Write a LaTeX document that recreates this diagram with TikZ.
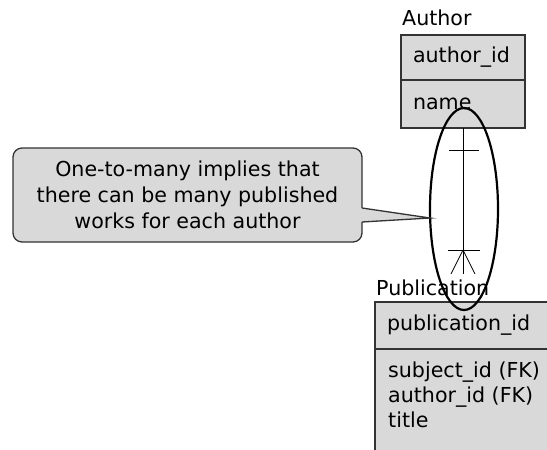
\documentclass[tikz,border=0pt]{standalone}
\usepackage{fontspec}
\setmainfont{DejaVu Sans}
\usetikzlibrary{positioning,shapes.geometric}
\definecolor{boxfill}{HTML}{D9D9D9}
\definecolor{boxline}{HTML}{333333}

\begin{document}
\begin{tikzpicture}[x=1pt,y=-1pt,
  entbox/.style={draw=boxline,fill=boxfill,line width=1.3pt,outer sep=0pt,anchor=north west,
    minimum width=119pt,text width=100pt,inner xsep=12pt,align=left,font=\fontsize{20.6}{25}\selectfont},
  entname/.style={anchor=base west,inner sep=0pt,font=\fontsize{20.6}{25}\selectfont},
  note/.style={draw=boxline,fill=boxfill,line width=1.3pt,outer sep=0pt,rounded corners=9pt,
    minimum width=349pt,minimum height=94pt,align=center,font=\fontsize{20.6}{26}\selectfont}]
\tikzset{rel/.style={line width=0.8pt}}
\clip (0,0) rectangle (547,450);
\fill[white] (0,0) rectangle (547,450);
% Author
\node[entname] (authorlbl) at (402,25) {Author};
\node[entbox,minimum height=45pt] (authorid) at (401,35) {author\_id};
\node[entbox,minimum height=48pt] (authorname) at (401,80) {name};
% Publication
\node[entname] (publbl) at (376,295) {Publication};
\node[entbox,minimum height=47pt,minimum width=190pt,text width=170pt] (pubid) at (375,302) {publication\_id};
\node[entbox,minimum height=120pt,minimum width=190pt] (pubattr) at (375,349) {};
\node[anchor=base west,inner sep=0pt,align=left,font=\fontsize{20.6}{25}\selectfont] (pubattrtext) at (388,427)
  {subject\_id (FK)\\author\_id (FK)\\title};
% relationship
\coordinate (oneend) at (463,128);
\coordinate (manyend) at (463,274);
\coordinate (forkpt) at (463,250);
\draw[rel] (oneend) -- (manyend);
\draw[rel] (449,150) -- (479,150);
\draw[rel] (448,250) -- (480,250);
\draw[rel] (forkpt) -- (451,274);
\draw[rel] (forkpt) -- (475,274);
\node[draw,ellipse,line width=2.2pt,inner sep=0pt,minimum width=68pt,minimum height=202pt] (ring) at (464,209) {};
% callout
\node[note] (note) at (187.5,195) {One-to-many implies that\\there can be many published\\works for each author};
\coordinate (tip) at (430,218);
\fill[boxfill] (361,208) -- (tip) -- (361,222) -- cycle;
\draw[boxline,line width=1.3pt] (note.east |- 0,208) -- (tip) -- (note.east |- 0,222);
\end{tikzpicture}
\end{document}
